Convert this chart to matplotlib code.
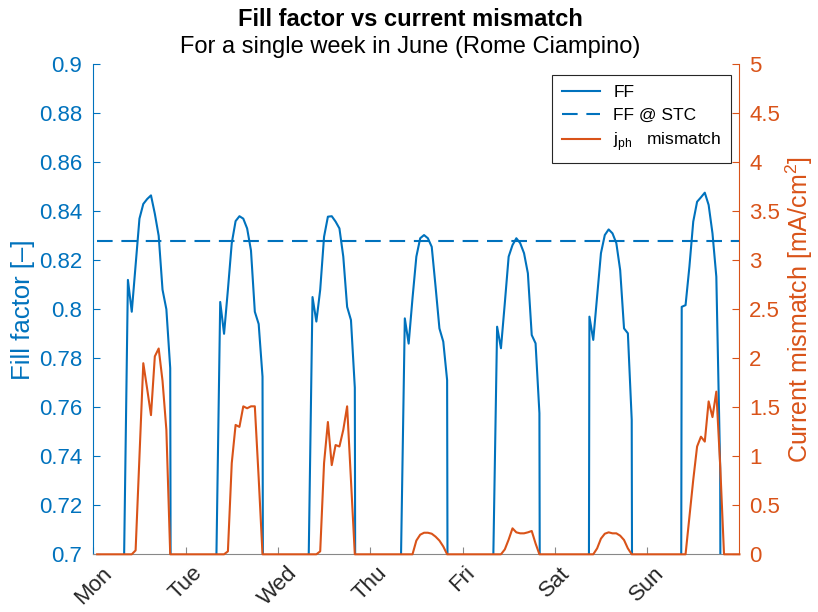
import numpy as np
import matplotlib
matplotlib.use("Agg")
import matplotlib.pyplot as plt

plt.rcParams['font.family'] = ['Liberation Sans', 'DejaVu Sans']
plt.rcParams['mathtext.fontset'] = 'custom'
plt.rcParams['mathtext.rm'] = 'Liberation Sans'

blue = '#0072BD'
orange = '#D95319'
dark = '#262626'

days = ['Mon', 'Tue', 'Wed', 'Thu', 'Fri', 'Sat', 'Sun']

# hourly values from 08:00 to 20:00 for every day, night hours are zero
day_hours = np.arange(8, 21)

ff_mon = [0.698, 0.812, 0.799, 0.818, 0.837, 0.843, 0.845, 0.8465, 0.839, 0.830, 0.808, 0.800, 0.776]
ff_tue = [0.698, 0.803, 0.790, 0.808, 0.827, 0.836, 0.838, 0.837, 0.833, 0.824, 0.799, 0.794, 0.7725]
ff_wed = [0.698, 0.805, 0.795, 0.808, 0.8296, 0.8378, 0.838, 0.8358, 0.833, 0.8215, 0.801, 0.7956, 0.768]
ff_thu = [0.698, 0.7963, 0.786, 0.8045, 0.8215, 0.829, 0.8303, 0.829, 0.8255, 0.8092, 0.7922, 0.7868, 0.7711]
ff_fri = [0.698, 0.7929, 0.7841, 0.8025, 0.8215, 0.8262, 0.829, 0.827, 0.8229, 0.8147, 0.7895, 0.7861, 0.7576]
ff_sat = [0.0, 0.797, 0.7875, 0.8052, 0.8229, 0.8303, 0.8326, 0.831, 0.827, 0.816, 0.7922, 0.7902, 0.7549]
ff_sun = [0.0, 0.801, 0.8017, 0.8174, 0.8358, 0.8439, 0.8457, 0.8476, 0.8426, 0.831, 0.8133, 0.735, 0.0]

jm_mon = [0, 0, 0, 0.04, 1.0, 1.95, 1.69, 1.42, 2.02, 2.10, 1.77, 1.27, 0]
jm_tue = [0, 0, 0, 0.03, 0.93, 1.32, 1.30, 1.51, 1.49, 1.51, 1.51, 0.78, 0]
jm_wed = [0, 0, 0, 0.03, 0.93, 1.35, 0.91, 1.115, 1.10, 1.27, 1.51, 0.76, 0]
jm_thu = [0, 0, 0, 0.0, 0.14, 0.20, 0.22, 0.22, 0.21, 0.18, 0.14, 0.08, 0]
jm_fri = [0, 0, 0, 0.05, 0.15, 0.265, 0.224, 0.214, 0.214, 0.224, 0.238, 0.11, 0]
jm_sat = [0, 0, 0, 0.06, 0.16, 0.21, 0.224, 0.214, 0.214, 0.19, 0.146, 0.06, 0]
jm_sun = [0, 0, 0, 0.38, 0.76, 1.10, 1.20, 1.15, 1.56, 1.40, 1.66, 0.91, 0]

ff_stc = 0.828

ff_days = [ff_mon, ff_tue, ff_wed, ff_thu, ff_fri, ff_sat, ff_sun]
jm_days = [jm_mon, jm_tue, jm_wed, jm_thu, jm_fri, jm_sat, jm_sun]

# one week, hourly
t = np.arange(1, 169)
ff = np.zeros(t.size)
jm = np.zeros(t.size)
for d in range(7):
    idx = 24 * d + day_hours - 1
    ff[idx] = ff_days[d]
    jm[idx] = jm_days[d]
x = t / 24.0

fig = plt.figure(figsize=(8.18, 6.12), dpi=100)
ax = fig.add_axes([93.3 / 818, (612 - 554.3) / 612, 646.1 / 818, 490 / 612])
ax2 = ax.twinx()

l1, = ax.plot(x, ff, color=blue, lw=1.5, label='FF')
l2, = ax.plot([x[0], x[-1]], [ff_stc, ff_stc], color=blue, lw=1.5,
              linestyle=(0, (7.5, 4.2)), label='FF @ STC')
l3, = ax2.plot(x, jm, color=orange, lw=1.5, clip_on=False,
               label='j$_\\mathregular{ph}$   mismatch')

ax.set_xlim(0, 7)
ax.set_ylim(0.7, 0.9)
ax2.set_ylim(0, 5)

ax.set_yticks(np.arange(0.7, 0.9001, 0.02))
ax.set_yticklabels(['%g' % round(v, 2) for v in np.arange(0.7, 0.9001, 0.02)])
ax2.set_yticks(np.arange(0, 5.01, 0.5))
ax2.set_yticklabels(['%g' % v for v in np.arange(0, 5.01, 0.5)])
ax.set_xticks(np.arange(7))
ax.set_xticklabels(days, rotation=45, ha='center', va='top')

for a in (ax, ax2):
    a.spines['top'].set_visible(False)
    for s in a.spines.values():
        s.set_linewidth(0.8)
ax.spines['left'].set_color(blue)
ax.spines['bottom'].set_color('#888888')
ax.spines['right'].set_visible(False)
ax2.spines['left'].set_visible(False)
ax2.spines['bottom'].set_visible(False)
ax2.spines['right'].set_color(orange)

ax.tick_params(axis='y', direction='in', length=4.8, width=0.8, colors=blue,
               labelsize=16, pad=8)
ax.tick_params(axis='x', direction='in', length=4.8, width=0.8, color='#888888',
               labelcolor=dark, labelsize=16, pad=6)
ax2.tick_params(axis='y', direction='in', length=4.8, width=0.8, colors=orange,
                labelsize=16, pad=7)

ax.set_ylabel('Fill factor [–]', color=blue, fontsize=18.5)
ax2.set_ylabel('Current mismatch [mA/cm$^2$]', color=orange, fontsize=18)
ax.yaxis.set_label_coords(-0.09, 0.5)
ax2.yaxis.set_label_coords(1.068, 0.5)

fig.text(410 / 818, 1 - 26 / 612, 'Fill factor vs current mismatch',
         ha='center', va='baseline', fontsize=17, fontweight='bold', color='black')
fig.text(410 / 818, 1 - 53 / 612, 'For a single week in June (Rome Ciampino)',
         ha='center', va='baseline', fontsize=17, color='black')

leg = ax2.legend([l1, l2, l3], [l1.get_label(), l2.get_label(), l3.get_label()],
                 loc='upper right', bbox_to_anchor=(0.987, 0.978), fontsize=12.5,
                 fancybox=False, framealpha=1, edgecolor=dark, borderaxespad=0,
                 handlelength=2.2, handletextpad=0.75, labelspacing=0.45, borderpad=0.55)
leg.get_frame().set_linewidth(0.8)

fig.savefig('out.png', dpi=100)
